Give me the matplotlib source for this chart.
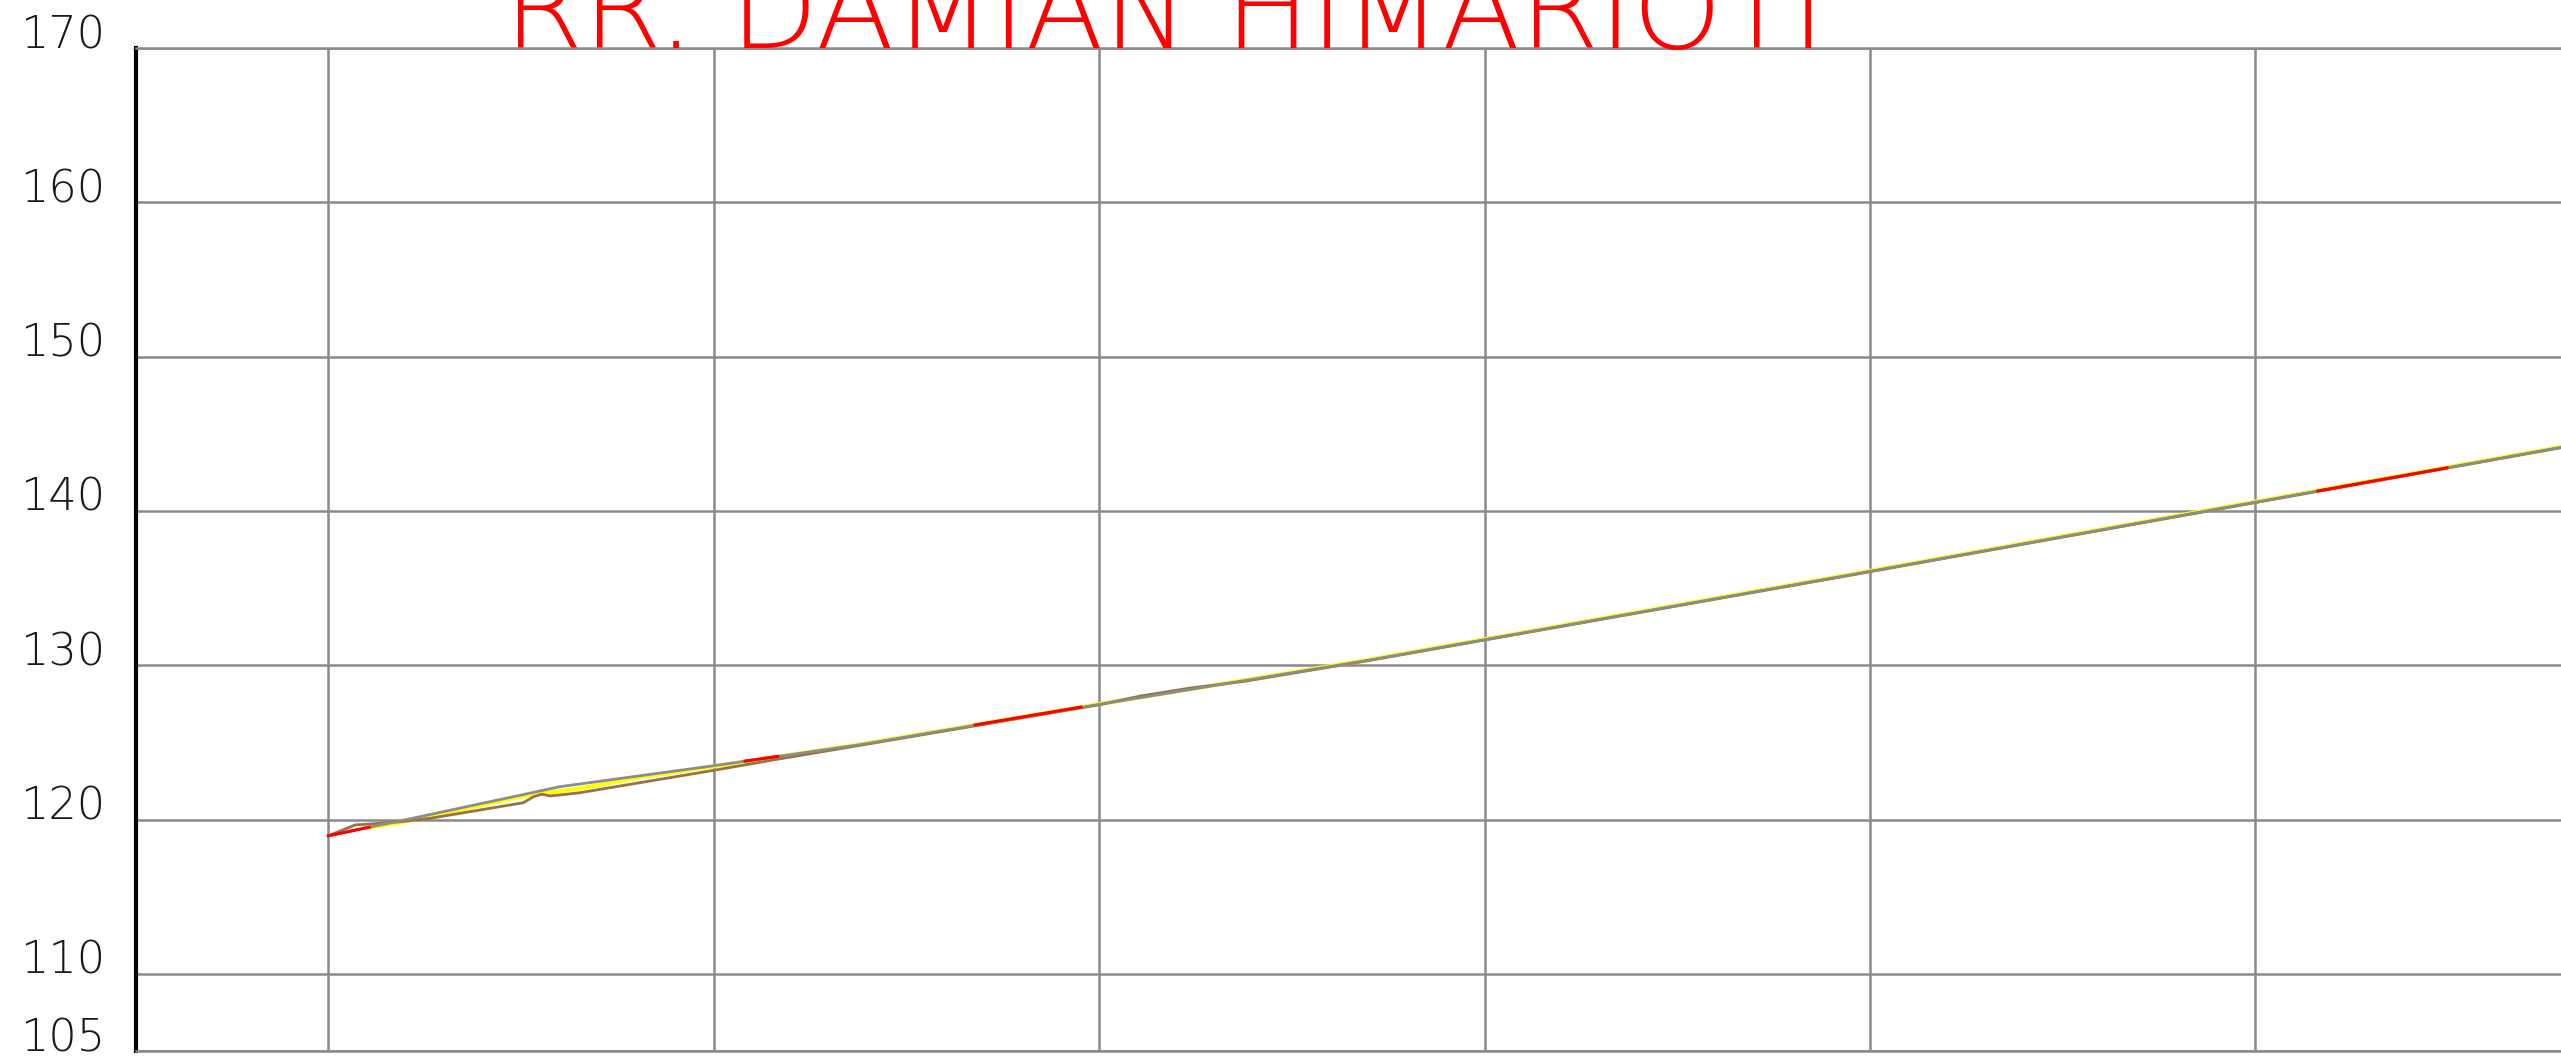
#!/usr/bin/env python3
"""Longitudinal profile sheet: ground / design lines over an elevation grid."""

import matplotlib

matplotlib.use("Agg")
import matplotlib.pyplot as plt

OUTPUT_PATH = "out.png"
FIG_W_PX = 2561
FIG_H_PX = 1059
DPI = 100

TITLE = "RR. DAMIAN HIMARIOTI"

# elevation labels on the left, chainage grid (no labels)
Y_TICKS = [105, 110, 120, 130, 140, 150, 160, 170]
Y_LABELS = ["105", "110", "120", "130", "140", "150", "160", "170"]
X_GRID = [0, 20, 40, 60, 80, 100]

# grey profile line
GREY_X = [0.0, 2.11, 3.72, 12.02, 20.0, 27.59, 40.05, 54.06, 78.97, 94.53, 99.72, 109.94, 115.86]
GREY_Y = [118.95, 119.50, 119.91, 122.13, 123.49, 124.85, 127.47, 130.34, 135.85, 139.34, 140.50, 142.79, 144.12]

# yellow line, sits just under the grey one at the start
YELLOW_X = [2.16, 3.72, 10.30, 13.06, 16.35, 20.0, 27.59, 40.05, 54.06, 78.97, 94.53, 99.72, 109.94, 115.86]
YELLOW_Y = [119.49, 119.81, 121.56, 122.01, 122.78, 123.44, 124.87, 127.49, 130.37, 135.88, 139.37, 140.53, 142.82, 144.15]

# brown line with the kink near the start
BROWN_X = [0.0, 1.39, 2.16, 3.72, 5.28, 10.12, 10.64, 11.07, 11.50, 12.37, 13.06, 20.0, 23.27, 27.59,
           40.05, 42.13, 44.72, 47.50, 54.06, 78.97, 94.53, 99.72, 109.94, 115.86]
BROWN_Y = [118.95, 119.65, 119.71, 119.86, 120.08, 121.09, 121.48, 121.64, 121.53, 121.64, 121.74, 123.19,
           123.90, 124.81, 127.45, 128.00, 128.52, 128.95, 130.32, 135.83, 139.32, 140.48, 142.77, 144.10]

# short red segments drawn over the profile
RED_SEGMENTS_X = [[0.0, 2.11], [21.62, 23.32], [33.56, 39.06], [103.24, 109.94]]
RED_SEGMENTS_Y = [[118.95, 119.50], [123.79, 124.09], [126.13, 127.29], [141.29, 142.79]]

GRID_COLOR = "#8a8a8a"
GREY_COLOR = "#8c8c8c"
YELLOW_COLOR = "#ffff00"
BROWN_COLOR = "#9b7048"
RED_COLOR = "#ff0000"


def draw_grid(ax):
    ax.set_xticks(X_GRID)
    ax.set_yticks(Y_TICKS)
    ax.set_yticklabels(Y_LABELS)
    ax.grid(True, color=GRID_COLOR, linewidth=1.8, zorder=0)
    ax.set_axisbelow(True)
    ax.tick_params(axis="x", length=0, labelbottom=False)
    # labels start near the sheet edge, baseline on the grid line
    ax.tick_params(axis="y", length=0, pad=83.5, labelsize=32, labelcolor="#1a1a1a")
    for label in ax.get_yticklabels():
        label.set_horizontalalignment("left")
        label.set_verticalalignment("baseline")
        label.set_fontweight("light")

    for side in ("top", "bottom"):
        ax.spines[side].set_color(GRID_COLOR)
        ax.spines[side].set_linewidth(1.8)
    ax.spines["right"].set_visible(False)
    ax.spines["left"].set_color("black")
    ax.spines["left"].set_linewidth(3.0)


def draw_profile(ax):
    ax.plot(YELLOW_X, YELLOW_Y, color=YELLOW_COLOR, linewidth=3.0, zorder=2)
    ax.plot(BROWN_X, BROWN_Y, color=BROWN_COLOR, linewidth=2.0, zorder=3)
    ax.plot(GREY_X, GREY_Y, color=GREY_COLOR, linewidth=2.0, zorder=4)
    for seg_x, seg_y in zip(RED_SEGMENTS_X, RED_SEGMENTS_Y):
        ax.plot(seg_x, seg_y, color=RED_COLOR, linewidth=2.2, zorder=5)


def main():
    fig = plt.figure(figsize=(FIG_W_PX / DPI, FIG_H_PX / DPI), dpi=DPI)
    left = 135.7 / FIG_W_PX
    bottom = 8.0 / FIG_H_PX
    top = 48.0 / FIG_H_PX
    ax = fig.add_axes([left, bottom, 1.0 - left, 1.0 - top - bottom])
    ax.set_xlim(-10, 115.86)
    ax.set_ylim(105, 170)

    draw_grid(ax)
    draw_profile(ax)

    # sheet title, cut off by the top of the page
    fig.text(
        504 / FIG_W_PX,
        1.0 - top,
        TITLE,
        ha="left",
        va="baseline",
        color=RED_COLOR,
        fontsize=82,
        family=["DejaVu Sans"],
        fontweight="ultralight",
    )

    fig.savefig(OUTPUT_PATH, dpi=DPI)
    plt.close(fig)


if __name__ == "__main__":
    main()
